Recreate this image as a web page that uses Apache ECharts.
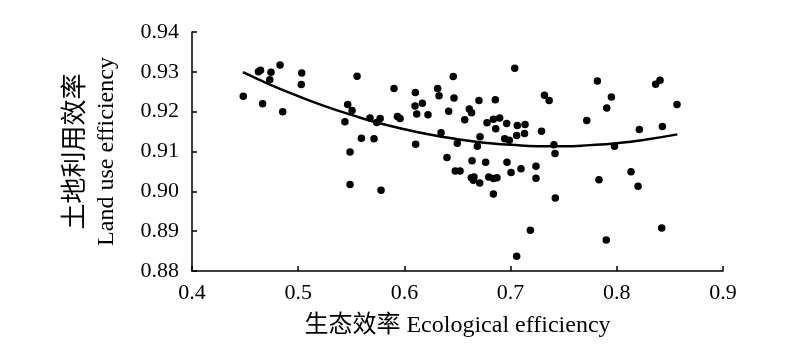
<!DOCTYPE html>
<html>
<head>
<meta charset="utf-8">
<script src="https://cdn.jsdelivr.net/npm/echarts@6/dist/echarts.min.js"></script>
<style>html,body{margin:0;padding:0;background:#fff}#c{width:800px;height:357px}</style>
</head>
<body>
<div id="c"></div>
<script>
// Ecological efficiency (x) and land use efficiency (y) of each sample
const ecoX = [0.4483,0.4625,0.4645,0.4744,0.4732,0.4829,0.4665,0.4854,0.5033,0.5029,0.5554,0.5466,0.5507,0.5440,0.5676,0.5739,0.5772,0.5595,0.5714,0.5488,0.5488,0.5780,0.5902,0.5934,0.5959,0.6103,0.6100,0.6116,0.6169,0.6222,0.6106,0.6313,0.6326,0.6345,0.6417,0.6460,0.6467,0.6498,0.6568,0.6611,0.6633,0.6702,0.6687,0.6712,0.6778,0.6838,0.6860,0.6856,0.6897,0.6963,0.6944,0.6988,0.7039,0.7063,0.7057,0.7136,0.7131,0.7291,0.7319,0.7363,0.7408,0.7418,0.6401,0.6479,0.6524,0.6637,0.6765,0.6630,0.6655,0.6649,0.6709,0.6794,0.6838,0.6872,0.6838,0.6966,0.7004,0.7098,0.7239,0.7239,0.7421,0.7186,0.7057,0.7817,0.7949,0.7905,0.7717,0.8407,0.8366,0.8567,0.8212,0.8429,0.7978,0.7832,0.8134,0.8200,0.8423,0.7901];
const landY = [0.9239,0.9300,0.9304,0.9299,0.9280,0.9317,0.9220,0.9200,0.9297,0.9268,0.9289,0.9218,0.9203,0.9175,0.9184,0.9173,0.9183,0.9133,0.9132,0.9099,0.9017,0.9003,0.9258,0.9188,0.9183,0.9248,0.9214,0.9194,0.9221,0.9192,0.9118,0.9258,0.9240,0.9147,0.9201,0.9288,0.9234,0.9121,0.9180,0.9207,0.9197,0.9228,0.9113,0.9137,0.9172,0.9181,0.9157,0.9230,0.9184,0.9170,0.9132,0.9128,0.9309,0.9165,0.9140,0.9168,0.9145,0.9151,0.9241,0.9228,0.9117,0.9095,0.9085,0.9051,0.9051,0.9077,0.9073,0.9034,0.9036,0.9028,0.9021,0.9036,0.9032,0.9034,0.8993,0.9073,0.9047,0.9057,0.9063,0.9033,0.8983,0.8902,0.8837,0.9277,0.9237,0.9209,0.9178,0.9279,0.9269,0.9218,0.9155,0.9163,0.9113,0.9029,0.9049,0.9013,0.8908,0.8878];
// Fitted trend curve
const fitX = [0.448,0.475,0.500,0.525,0.550,0.575,0.600,0.625,0.650,0.675,0.700,0.725,0.750,0.775,0.800,0.825,0.857];
const fitY = [0.9299,0.9266,0.9239,0.9214,0.9192,0.9172,0.9156,0.9142,0.9131,0.9122,0.9117,0.9113,0.9113,0.9116,0.9121,0.9129,0.9143];
const xTicks = {min:0.4, max:0.9, interval:0.1};
const yTicks = {min:0.88, max:0.94, interval:0.01};
const xName = '生态效率 Ecological efficiency';
const yNameCn = '土地利用效率';
const yNameEn = 'Land use efficiency';

const FONT = '"Liberation Serif", "Noto Sans CJK SC", serif';
const chart = echarts.init(document.getElementById('c'), null, {renderer:'canvas'});
const axisCommon = {
  axisLine:{show:true, onZero:false, lineStyle:{color:'#000', width:1.5}},
  axisTick:{show:true, inside:true, length:5, lineStyle:{color:'#000', width:1.5}},
  splitLine:{show:false}
};
chart.setOption({
  backgroundColor:'#fff',
  animation:false,
  grid:{left:192, right:77, top:32, bottom:86, containLabel:false},
  xAxis:Object.assign({}, axisCommon, {
    type:'value', min:xTicks.min, max:xTicks.max, interval:xTicks.interval,
    axisLabel:{fontFamily:FONT, color:'#000', fontSize:22, margin:11, formatter:v=>v.toFixed(1)},
    name:xName, nameLocation:'middle', nameGap:43,
    nameTextStyle:{fontFamily:FONT, color:'#000', fontSize:24}
  }),
  yAxis:Object.assign({}, axisCommon, {
    type:'value', min:yTicks.min, max:yTicks.max, interval:yTicks.interval,
    axisLabel:{fontFamily:FONT, color:'#000', fontSize:22, margin:13, formatter:v=>v.toFixed(2)},
    name:'{cn|'+yNameCn+'}\n{en|'+yNameEn+'}', nameLocation:'middle', nameGap:68, nameRotate:90,
    nameTextStyle:{fontFamily:FONT, color:'#000', fontSize:24, lineHeight:34,
      rich:{cn:{fontFamily:'"Noto Sans CJK SC"', fontSize:26, lineHeight:34, color:'#000'},
            en:{fontFamily:FONT, fontSize:24, lineHeight:34, color:'#000'}}}
  }),
  series:[
    {type:'scatter', data:ecoX.map((x,i)=>[x, landY[i]]), symbolSize:7.5, itemStyle:{color:'#000', opacity:1}, z:3},
    {type:'line', data:fitX.map((x,i)=>[x, fitY[i]]), smooth:true, showSymbol:false, symbol:'none',
     lineStyle:{color:'#000', width:2.5}, z:2}
  ]
});
</script>
</body>
</html>
